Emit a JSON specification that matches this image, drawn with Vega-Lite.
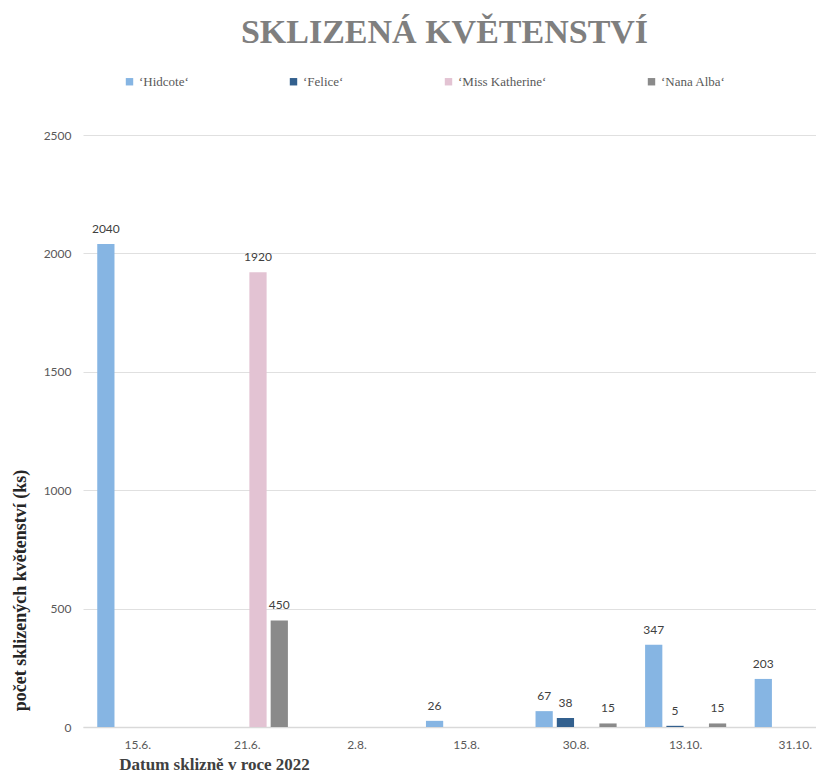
{
  "$schema": "https://vega.github.io/schema/vega-lite/v6.json",
  "autosize": {"type": "none"},
  "width": 733,
  "height": 592,
  "padding": {"left": 83, "top": 135, "right": 0, "bottom": 46},
  "background": "white",
  "title": {
    "text": "SKLIZENÁ KVĚTENSTVÍ",
    "font": "Liberation Serif",
    "fontSize": 34,
    "fontWeight": "bold",
    "color": "#7f7f7f",
    "anchor": "middle",
    "frame": "group",
    "offset": 25,
    "dx": -5
  },
  "config": {"view": {"stroke": null}},
  "data": {
    "values": [
      {"datum": "15.6.", "odruda": "‘Hidcote‘", "pocet": 2040},
      {"datum": "21.6.", "odruda": "‘Miss Katherine‘", "pocet": 1920},
      {"datum": "21.6.", "odruda": "‘Nana Alba‘", "pocet": 450},
      {"datum": "15.8.", "odruda": "‘Hidcote‘", "pocet": 26},
      {"datum": "30.8.", "odruda": "‘Hidcote‘", "pocet": 67},
      {"datum": "30.8.", "odruda": "‘Felice‘", "pocet": 38},
      {"datum": "30.8.", "odruda": "‘Nana Alba‘", "pocet": 15},
      {"datum": "13.10.", "odruda": "‘Hidcote‘", "pocet": 347},
      {"datum": "13.10.", "odruda": "‘Felice‘", "pocet": 5},
      {"datum": "13.10.", "odruda": "‘Nana Alba‘", "pocet": 15},
      {"datum": "31.10.", "odruda": "‘Hidcote‘", "pocet": 203}
    ]
  },
  "encoding": {
    "x": {
      "field": "datum",
      "type": "nominal",
      "sort": null,
      "scale": {
        "domain": ["15.6.", "21.6.", "2.8.", "15.8.", "30.8.", "13.10.", "31.10."],
        "range": [0, 767],
        "paddingInner": 0.26,
        "paddingOuter": 0.13
      },
      "axis": {
        "title": "Datum sklizně v roce 2022",
        "titleFont": "Liberation Serif",
        "titleFontSize": 17,
        "titleFontWeight": "bold",
        "titleColor": "#404040",
        "titleAnchor": "middle",
        "titleX": 131,
        "titleY": 37,
        "titleBaseline": "middle",
        "labelFont": "Lato",
        "labelFontSize": 12,
        "labelColor": "#595959",
        "labelAngle": 0,
        "labelPadding": 12,
        "ticks": false,
        "domain": true,
        "domainColor": "#d9d9d9",
        "domainWidth": 1.5,
        "grid": false
      }
    },
    "xOffset": {
      "field": "odruda",
      "type": "nominal",
      "scale": {
        "domain": ["‘Hidcote‘", "‘Felice‘", "‘Miss Katherine‘", "‘Nana Alba‘"],
        "paddingInner": 0.19,
        "paddingOuter": 0
      }
    },
    "y": {
      "field": "pocet",
      "type": "quantitative",
      "scale": {"domain": [0, 2500], "nice": false},
      "axis": {
        "title": "počet sklizených květenství (ks)",
        "titleFont": "Liberation Serif",
        "titleFontSize": 18,
        "titleFontWeight": "bold",
        "titleColor": "#262626",
        "titleAngle": -90,
        "titleX": -63,
        "titleY": 455,
        "titleAlign": "center",
        "titleBaseline": "middle",
        "values": [0, 500, 1000, 1500, 2000, 2500],
        "format": "d",
        "labelFont": "Lato",
        "labelFontSize": 12,
        "labelColor": "#595959",
        "labelPadding": 12,
        "ticks": false,
        "domain": false,
        "grid": true,
        "gridColor": "#e0e0e0",
        "gridWidth": 1
      }
    }
  },
  "layer": [
    {
      "mark": {"type": "bar"},
      "encoding": {
        "color": {
          "field": "odruda",
          "type": "nominal",
          "scale": {
            "domain": ["‘Hidcote‘", "‘Felice‘", "‘Miss Katherine‘", "‘Nana Alba‘"],
            "range": ["#86b5e3", "#33608e", "#e3c3d3", "#8a8a8a"]
          },
          "legend": {
            "title": null,
            "orient": "none",
            "legendX": 40,
            "legendY": -60,
            "direction": "horizontal",
            "columns": 4,
            "columnPadding": 98,
            "symbolType": "square",
            "symbolSize": 55,
            "symbolStrokeWidth": 0,
            "labelFont": "Liberation Serif",
            "labelFontSize": 13,
            "labelColor": "#595959",
            "labelOffset": 3
          }
        }
      }
    },
    {
      "mark": {
        "type": "text",
        "baseline": "bottom",
        "dy": -8,
        "font": "Lato",
        "fontSize": 12,
        "color": "#404040"
      },
      "encoding": {"text": {"field": "pocet", "type": "quantitative"}}
    }
  ]
}
